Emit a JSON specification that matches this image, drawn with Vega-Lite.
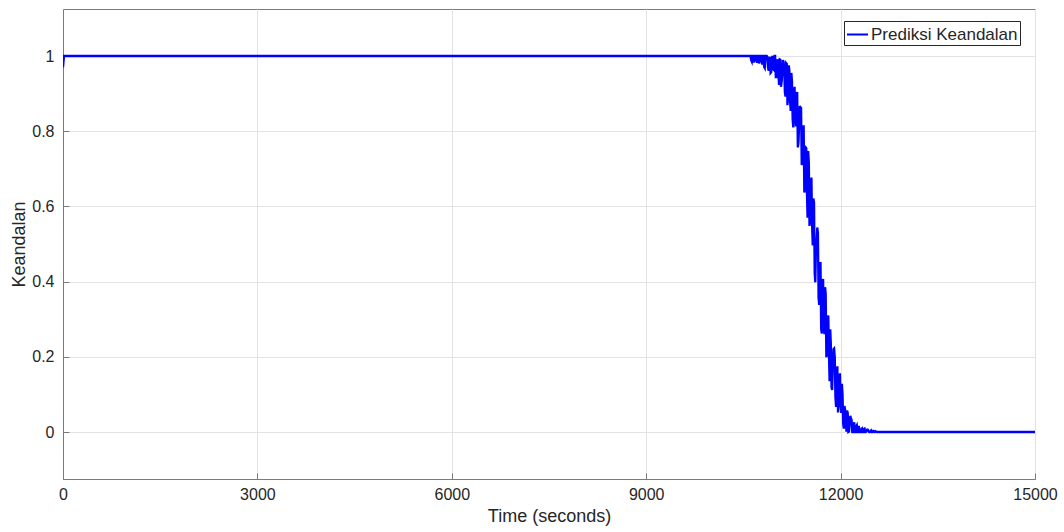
{
  "$schema": "https://vega.github.io/schema/vega-lite/v6.json",
  "width": 972,
  "height": 470,
  "autosize": {"type": "none"},
  "padding": {"left": 63, "top": 9, "right": 29, "bottom": 53},
  "background": "white",
  "config": {
    "font": "Liberation Sans",
    "view": {"stroke": "#7a7a7a", "strokeWidth": 1},
    "axis": {
      "domainColor": "#7a7a7a",
      "gridColor": "#e3e3e3",
      "tickColor": "#7a7a7a",
      "labelColor": "#262626",
      "titleColor": "#262626",
      "labelFont": "Liberation Sans",
      "titleFont": "Liberation Sans",
      "titleFontWeight": "normal"
    }
  },
  "data": {
    "values": [
      {"t": 0, "r": 0.97}, {"t": 15, "r": 1},
      {"t": 10600, "r": 1}, {"t": 10610, "r": 1}, {"t": 10620, "r": 0.989}, {"t": 10630, "r": 0.985},
      {"t": 10640, "r": 1}, {"t": 10650, "r": 1}, {"t": 10660, "r": 0.983}, {"t": 10670, "r": 0.989},
      {"t": 10680, "r": 1}, {"t": 10690, "r": 1}, {"t": 10700, "r": 0.989}, {"t": 10710, "r": 0.982},
      {"t": 10720, "r": 1}, {"t": 10730, "r": 1}, {"t": 10740, "r": 0.98}, {"t": 10750, "r": 0.986},
      {"t": 10760, "r": 1}, {"t": 10770, "r": 1}, {"t": 10780, "r": 0.988}, {"t": 10790, "r": 0.977},
      {"t": 10800, "r": 1}, {"t": 10810, "r": 1}, {"t": 10820, "r": 0.971}, {"t": 10830, "r": 0.968},
      {"t": 10840, "r": 1}, {"t": 10850, "r": 1}, {"t": 10860, "r": 1}, {"t": 10870, "r": 0.998},
      {"t": 10880, "r": 0.969}, {"t": 10890, "r": 0.961}, {"t": 10900, "r": 0.991}, {"t": 10910, "r": 0.998},
      {"t": 10920, "r": 0.955}, {"t": 10930, "r": 0.957}, {"t": 10940, "r": 0.996}, {"t": 10950, "r": 1},
      {"t": 10960, "r": 0.965}, {"t": 10970, "r": 0.963}, {"t": 10980, "r": 1}, {"t": 10990, "r": 1},
      {"t": 11000, "r": 0.944}, {"t": 11010, "r": 0.944}, {"t": 11020, "r": 0.985}, {"t": 11030, "r": 0.991},
      {"t": 11040, "r": 0.956}, {"t": 11050, "r": 0.923}, {"t": 11060, "r": 0.991}, {"t": 11070, "r": 0.99},
      {"t": 11080, "r": 0.918}, {"t": 11090, "r": 0.931}, {"t": 11100, "r": 0.954}, {"t": 11110, "r": 0.989},
      {"t": 11120, "r": 0.985}, {"t": 11130, "r": 0.969}, {"t": 11140, "r": 0.904}, {"t": 11150, "r": 0.892},
      {"t": 11160, "r": 0.981}, {"t": 11170, "r": 0.979}, {"t": 11180, "r": 0.869}, {"t": 11190, "r": 0.896},
      {"t": 11200, "r": 0.975}, {"t": 11210, "r": 0.961}, {"t": 11220, "r": 0.881}, {"t": 11230, "r": 0.854},
      {"t": 11240, "r": 0.955}, {"t": 11250, "r": 0.932}, {"t": 11260, "r": 0.831}, {"t": 11270, "r": 0.81},
      {"t": 11280, "r": 0.903}, {"t": 11290, "r": 0.918}, {"t": 11300, "r": 0.842}, {"t": 11310, "r": 0.813},
      {"t": 11320, "r": 0.9}, {"t": 11330, "r": 0.904}, {"t": 11340, "r": 0.757}, {"t": 11350, "r": 0.77},
      {"t": 11360, "r": 0.816}, {"t": 11370, "r": 0.867}, {"t": 11380, "r": 0.863}, {"t": 11390, "r": 0.862},
      {"t": 11400, "r": 0.71}, {"t": 11410, "r": 0.724}, {"t": 11420, "r": 0.774}, {"t": 11430, "r": 0.816},
      {"t": 11440, "r": 0.637}, {"t": 11450, "r": 0.646}, {"t": 11460, "r": 0.757}, {"t": 11470, "r": 0.755},
      {"t": 11480, "r": 0.64}, {"t": 11490, "r": 0.57}, {"t": 11500, "r": 0.747}, {"t": 11510, "r": 0.715},
      {"t": 11520, "r": 0.548}, {"t": 11530, "r": 0.563}, {"t": 11540, "r": 0.647}, {"t": 11550, "r": 0.677},
      {"t": 11560, "r": 0.55}, {"t": 11570, "r": 0.496}, {"t": 11580, "r": 0.621}, {"t": 11590, "r": 0.611},
      {"t": 11600, "r": 0.422}, {"t": 11610, "r": 0.398}, {"t": 11620, "r": 0.493}, {"t": 11630, "r": 0.509},
      {"t": 11640, "r": 0.544}, {"t": 11650, "r": 0.53}, {"t": 11660, "r": 0.357}, {"t": 11670, "r": 0.338},
      {"t": 11680, "r": 0.427}, {"t": 11690, "r": 0.452}, {"t": 11700, "r": 0.274}, {"t": 11710, "r": 0.262},
      {"t": 11720, "r": 0.401}, {"t": 11730, "r": 0.407}, {"t": 11740, "r": 0.281}, {"t": 11750, "r": 0.26},
      {"t": 11760, "r": 0.385}, {"t": 11770, "r": 0.368}, {"t": 11780, "r": 0.199}, {"t": 11790, "r": 0.207},
      {"t": 11800, "r": 0.292}, {"t": 11810, "r": 0.31}, {"t": 11820, "r": 0.211}, {"t": 11830, "r": 0.135},
      {"t": 11840, "r": 0.273}, {"t": 11850, "r": 0.231}, {"t": 11860, "r": 0.119}, {"t": 11870, "r": 0.112},
      {"t": 11880, "r": 0.18}, {"t": 11890, "r": 0.22}, {"t": 11900, "r": 0.222}, {"t": 11910, "r": 0.199},
      {"t": 11920, "r": 0.093}, {"t": 11930, "r": 0.067}, {"t": 11940, "r": 0.148}, {"t": 11950, "r": 0.175},
      {"t": 11960, "r": 0.052}, {"t": 11970, "r": 0.079}, {"t": 11980, "r": 0.141}, {"t": 11990, "r": 0.156},
      {"t": 12000, "r": 0.071}, {"t": 12010, "r": 0.051}, {"t": 12020, "r": 0.128}, {"t": 12030, "r": 0.1},
      {"t": 12040, "r": 0.022}, {"t": 12050, "r": 0.009}, {"t": 12060, "r": 0.069}, {"t": 12070, "r": 0.059},
      {"t": 12080, "r": 0.03}, {"t": 12090, "r": 0.001}, {"t": 12100, "r": 0.057}, {"t": 12110, "r": 0.051},
      {"t": 12120, "r": 0}, {"t": 12130, "r": 0.001}, {"t": 12140, "r": 0.022}, {"t": 12150, "r": 0.043},
      {"t": 12160, "r": 0.037}, {"t": 12170, "r": 0.032}, {"t": 12180, "r": 0}, {"t": 12190, "r": 0},
      {"t": 12200, "r": 0.015}, {"t": 12210, "r": 0.026}, {"t": 12220, "r": 0}, {"t": 12230, "r": 0},
      {"t": 12240, "r": 0.015}, {"t": 12250, "r": 0.018}, {"t": 12260, "r": 0}, {"t": 12270, "r": 0},
      {"t": 12280, "r": 0.016}, {"t": 12290, "r": 0.008}, {"t": 12300, "r": 0}, {"t": 12310, "r": 0},
      {"t": 12320, "r": 0.007}, {"t": 12330, "r": 0.009}, {"t": 12340, "r": 0}, {"t": 12350, "r": 0},
      {"t": 12360, "r": 0.008}, {"t": 12370, "r": 0.009}, {"t": 12380, "r": 0}, {"t": 12390, "r": 0},
      {"t": 12400, "r": 0.002}, {"t": 12410, "r": 0.006}, {"t": 12420, "r": 0.006}, {"t": 12430, "r": 0.003},
      {"t": 12440, "r": 0}, {"t": 12450, "r": 0}, {"t": 12460, "r": 0.002}, {"t": 12470, "r": 0.004},
      {"t": 12480, "r": 0}, {"t": 12490, "r": 0}, {"t": 12500, "r": 0.003}, {"t": 12510, "r": 0.003},
      {"t": 12520, "r": 0}, {"t": 12530, "r": 0}, {"t": 12540, "r": 0.002}, {"t": 12550, "r": 0.001},
      {"t": 12560, "r": 0}, {"t": 12600, "r": 0}, {"t": 15000, "r": 0}
    ]
  },
  "mark": {"type": "line", "strokeWidth": 2.3, "clip": true, "interpolate": "linear", "strokeJoin": "miter"},
  "encoding": {
    "x": {
      "field": "t",
      "type": "quantitative",
      "scale": {"domain": [0, 15000], "nice": false, "zero": false},
      "axis": {
        "values": [0, 3000, 6000, 9000, 12000, 15000],
        "format": "d",
        "title": "Time (seconds)",
        "titleFontSize": 18,
        "titlePadding": 5,
        "labelFontSize": 16,
        "tickSize": -6,
        "labelPadding": 13,
        "grid": true,
        "labelFlush": false
      }
    },
    "y": {
      "field": "r",
      "type": "quantitative",
      "scale": {"domain": [-0.125, 1.125], "nice": false, "zero": false},
      "axis": {
        "values": [0, 0.2, 0.4, 0.6, 0.8, 1],
        "format": "~g",
        "title": "Keandalan",
        "titleFontSize": 18,
        "titlePadding": 3,
        "labelFontSize": 16,
        "tickSize": -6,
        "labelPadding": 15,
        "grid": true
      }
    },
    "color": {
      "datum": "Prediksi Keandalan",
      "type": "nominal",
      "scale": {"range": ["#0000ff"]},
      "legend": {
        "title": null,
        "orient": "none",
        "legendX": 781,
        "legendY": 12,
        "symbolType": "stroke",
        "symbolSize": 441,
        "symbolStrokeWidth": 2,
        "labelFontSize": 17,
        "labelColor": "#262626",
        "labelFont": "Liberation Sans",
        "strokeColor": "#262626",
        "fillColor": "white",
        "padding": 2,
        "labelOffset": 2
      }
    }
  }
}
